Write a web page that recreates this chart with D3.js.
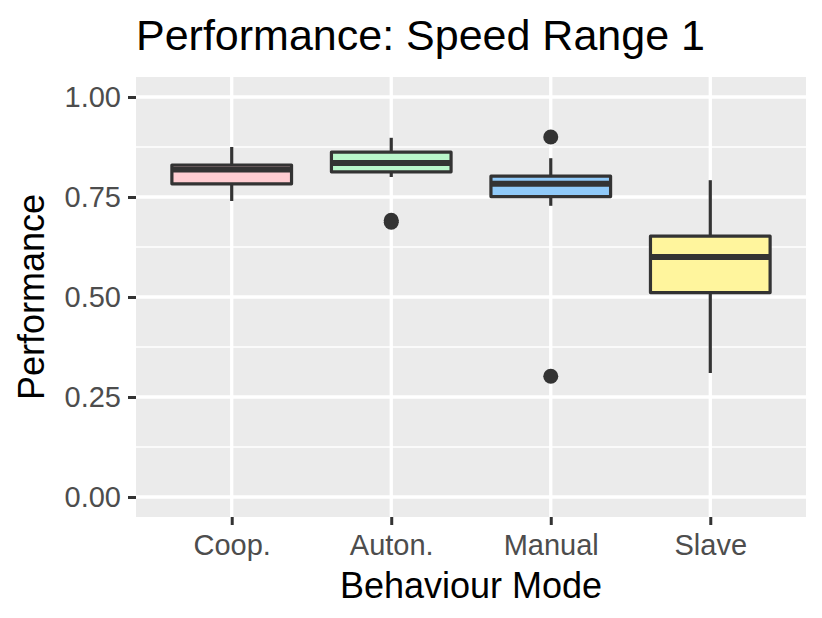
<!DOCTYPE html>
<html>
<head>
<meta charset="utf-8">
<script src="https://cdn.jsdelivr.net/npm/d3@7"></script>
<style>
    body { margin: 0; background: #fff; }
    svg { display: block; font-family: "Liberation Sans", Arial, Helvetica, sans-serif; }
</style>
</head>
<body>
<svg id="chart" width="822" height="618"></svg>
<script>
// box summaries
const modes = ["Coop.", "Auton.", "Manual", "Slave"];
const fills = ["#FFCDD2", "#B9F6CA", "#90CAF9", "#FFF59D"];
const lowerWhisker = [0.74, 0.80, 0.728, 0.31];
const lowerHinge = [0.783, 0.813, 0.751, 0.511];
const medians = [0.819, 0.835, 0.783, 0.60];
const upperHinge = [0.83, 0.862, 0.802, 0.652];
const upperWhisker = [0.875, 0.898, 0.847, 0.792];
const outliers = [[], [0.692, 0.687], [0.90, 0.302], []];
const yTicks = [0, 0.25, 0.5, 0.75, 1];
const yMinor = [0.125, 0.375, 0.625, 0.875];

const svg = d3.select("#chart");
const panel = { left: 136, right: 806, top: 77, bottom: 517 };

const x = d3.scalePoint()
    .domain(modes)
    .range([panel.left, panel.right])
    .padding(0.6);

const y = d3.scaleLinear()
    .domain([-0.05, 1.05])
    .range([panel.bottom, panel.top]);

const boxW = x.step() * 0.75;
const ink = "#333333";

svg.append("rect")
    .attr("x", panel.left)
    .attr("y", panel.top)
    .attr("width", panel.right - panel.left)
    .attr("height", panel.bottom - panel.top)
    .attr("fill", "#EBEBEB");

// grid
const grid = svg.append("g").attr("stroke", "#fff").attr("fill", "none");
grid.selectAll(".minor").data(yMinor).join("line")
    .attr("x1", panel.left).attr("x2", panel.right)
    .attr("y1", d => y(d)).attr("y2", d => y(d))
    .attr("stroke-width", 1.7);
grid.selectAll(".majorY").data(yTicks).join("line")
    .attr("x1", panel.left).attr("x2", panel.right)
    .attr("y1", d => y(d)).attr("y2", d => y(d))
    .attr("stroke-width", 3.3);
grid.selectAll(".majorX").data(modes).join("line")
    .attr("y1", panel.top).attr("y2", panel.bottom)
    .attr("x1", d => x(d)).attr("x2", d => x(d))
    .attr("stroke-width", 3.3);

// boxes
const boxes = modes.map((m, i) => ({
    mode: m, fill: fills[i],
    lo: lowerWhisker[i], q1: lowerHinge[i], med: medians[i],
    q3: upperHinge[i], hi: upperWhisker[i], out: outliers[i]
}));

const g = svg.append("g").selectAll("g").data(boxes).join("g");

g.append("line")
    .attr("x1", d => x(d.mode)).attr("x2", d => x(d.mode))
    .attr("y1", d => y(d.hi)).attr("y2", d => y(d.q3))
    .attr("stroke", ink).attr("stroke-width", 3.2);
g.append("line")
    .attr("x1", d => x(d.mode)).attr("x2", d => x(d.mode))
    .attr("y1", d => y(d.q1)).attr("y2", d => y(d.lo))
    .attr("stroke", ink).attr("stroke-width", 3.2);

g.append("rect")
    .attr("x", d => x(d.mode) - boxW / 2)
    .attr("width", boxW)
    .attr("y", d => y(d.q3))
    .attr("height", d => y(d.q1) - y(d.q3))
    .attr("fill", d => d.fill)
    .attr("stroke", ink)
    .attr("stroke-width", 3.2)
    .attr("stroke-linejoin", "round");

g.append("line")
    .attr("x1", d => x(d.mode) - boxW / 2).attr("x2", d => x(d.mode) + boxW / 2)
    .attr("y1", d => y(d.med)).attr("y2", d => y(d.med))
    .attr("stroke", ink).attr("stroke-width", 6);

g.selectAll("circle").data(d => d.out.map(v => ({ mode: d.mode, v }))).join("circle")
    .attr("cx", d => x(d.mode))
    .attr("cy", d => y(d.v))
    .attr("r", 7.5)
    .attr("fill", ink);

// axes
const yAxis = svg.append("g")
    .attr("transform", `translate(${panel.left},0)`)
    .call(d3.axisLeft(y).tickValues(yTicks).tickFormat(d3.format(".2f")).tickSize(8).tickPadding(7));
const xAxis = svg.append("g")
    .attr("transform", `translate(0,${panel.bottom})`)
    .call(d3.axisBottom(x).tickSize(8).tickPadding(9));

[yAxis, xAxis].forEach(a => {
    a.select(".domain").remove();
    a.selectAll(".tick line").attr("stroke", ink).attr("stroke-width", 3);
    a.selectAll(".tick text")
        .attr("fill", "#4D4D4D")
        .style("font-size", "29px")
        .style("font-family", "'Liberation Sans', Arial, sans-serif");
});

svg.append("text")
    .attr("x", (panel.left + panel.right) / 2)
    .attr("y", 598)
    .attr("text-anchor", "middle")
    .style("font-size", "36px")
    .text("Behaviour Mode");

svg.append("text")
    .attr("transform", `translate(44,${(panel.top + panel.bottom) / 2}) rotate(-90)`)
    .attr("text-anchor", "middle")
    .style("font-size", "36px")
    .text("Performance");

svg.append("text")
    .attr("x", panel.left)
    .attr("y", 50)
    .style("font-size", "43px")
    .text("Performance: Speed Range 1");
</script>
</body>
</html>
